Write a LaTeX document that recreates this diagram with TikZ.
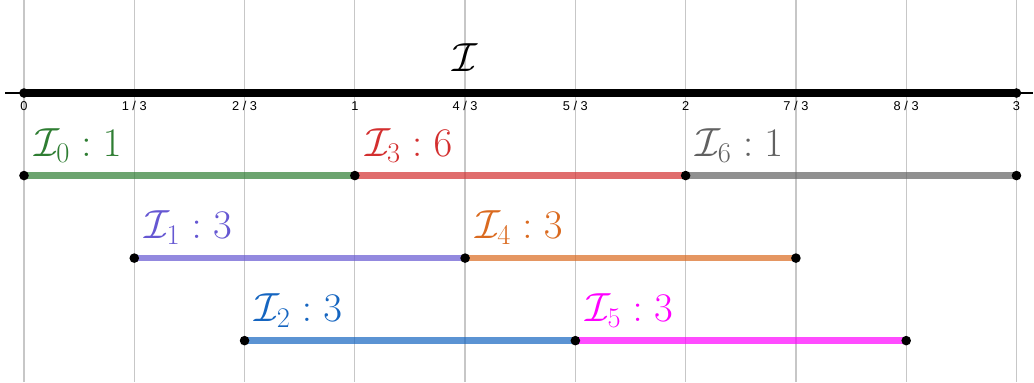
\documentclass[tikz,border=0pt]{standalone}
\usepackage{fix-cm}
\usepackage{amsmath,amssymb}
\usepackage{fontspec}
\usepackage{xcolor}
\usepackage{tikz}
\usetikzlibrary{positioning}
\newfontfamily\ticksf{Liberation Sans}

\definecolor{igreen}{HTML}{2E7D32}
\definecolor{ired}{HTML}{D32F2F}
\definecolor{igray}{HTML}{616161}
\definecolor{ipurple}{HTML}{6557D2}
\definecolor{iorange}{HTML}{DA6A1F}
\definecolor{iblue}{HTML}{1565C0}
\definecolor{imagenta}{HTML}{FF00FF}

\begin{document}
\begin{tikzpicture}[
  x=82.7pt, y=61.9pt,
  gridline/.style={draw=black!22, line width=1pt},
  ticklab/.style={font=\ticksf\fontsize{9.6}{11}\selectfont, anchor=base, inner sep=0pt},
  seg/.style={line width=5pt, draw opacity=0.7},
  lab/.style={font=\fontsize{30.5}{36}\selectfont, anchor=base west, inner sep=0pt}
]
\useasboundingbox (-0.2177,-3.503) rectangle (9.159,1.127);

% grid and ticks
\foreach \i in {0,...,9}
  \draw[gridline] (\i,-3.503) -- (\i,1.127);
\foreach \i/\t in {0/{0}, 1/{1 / 3}, 2/{2 / 3}, 3/{1}, 4/{4 / 3}, 5/{5 / 3}, 6/{2}, 7/{7 / 3}, 8/{8 / 3}, 9/{3}}
  \node[ticklab] (t\i) at (\i,-0.21) {\t};

% the whole interval
\coordinate (axl) at (-0.172,0);
\coordinate (axr) at (9.15,0);
\coordinate (s) at (0,0);
\coordinate (e) at (9,0);
\draw[line width=0.8pt] (axl) -- (axr);
\draw[line width=5.5pt] (s) -- (e);
\node[lab, anchor=base] (title) at (4,0.255) {$\mathcal{I}$};

% end points of the pieces
\coordinate (a0) at (0,-1); \coordinate (a3) at (3,-1);
\coordinate (a6) at (6,-1); \coordinate (a9) at (9,-1);
\coordinate (b1) at (1,-2); \coordinate (b4) at (4,-2); \coordinate (b7) at (7,-2);
\coordinate (c2) at (2,-3); \coordinate (c5) at (5,-3); \coordinate (c8) at (8,-3);

\draw[seg, igreen] (a0) -- (a3);
\draw[seg, ired] (a3) -- (a6);
\draw[seg, igray] (a6) -- (a9);
\draw[seg, ipurple] (b1) -- (b4);
\draw[seg, iorange] (b4) -- (b7);
\draw[seg, iblue] (c2) -- (c5);
\draw[seg, imagenta] (c5) -- (c8);

\foreach \p in {s,e,a0,a3,a6,a9,b1,b4,b7,c2,c5,c8}
  \fill (\p) circle (3.6pt);

\node[lab, text=igreen] (l0) at ([shift={(0.09,0.235)}]a0) {$\mathcal{I}_0 : 1$};
\node[lab, text=ired] (l3) at ([shift={(0.09,0.235)}]a3) {$\mathcal{I}_3 : 6$};
\node[lab, text=igray] (l6) at ([shift={(0.09,0.235)}]a6) {$\mathcal{I}_6 : 1$};
\node[lab, text=ipurple] (l1) at ([shift={(0.09,0.235)}]b1) {$\mathcal{I}_1 : 3$};
\node[lab, text=iorange] (l4) at ([shift={(0.09,0.235)}]b4) {$\mathcal{I}_4 : 3$};
\node[lab, text=iblue] (l2) at ([shift={(0.09,0.235)}]c2) {$\mathcal{I}_2 : 3$};
\node[lab, text=imagenta] (l5) at ([shift={(0.09,0.235)}]c5) {$\mathcal{I}_5 : 3$};
\end{tikzpicture}
\end{document}
